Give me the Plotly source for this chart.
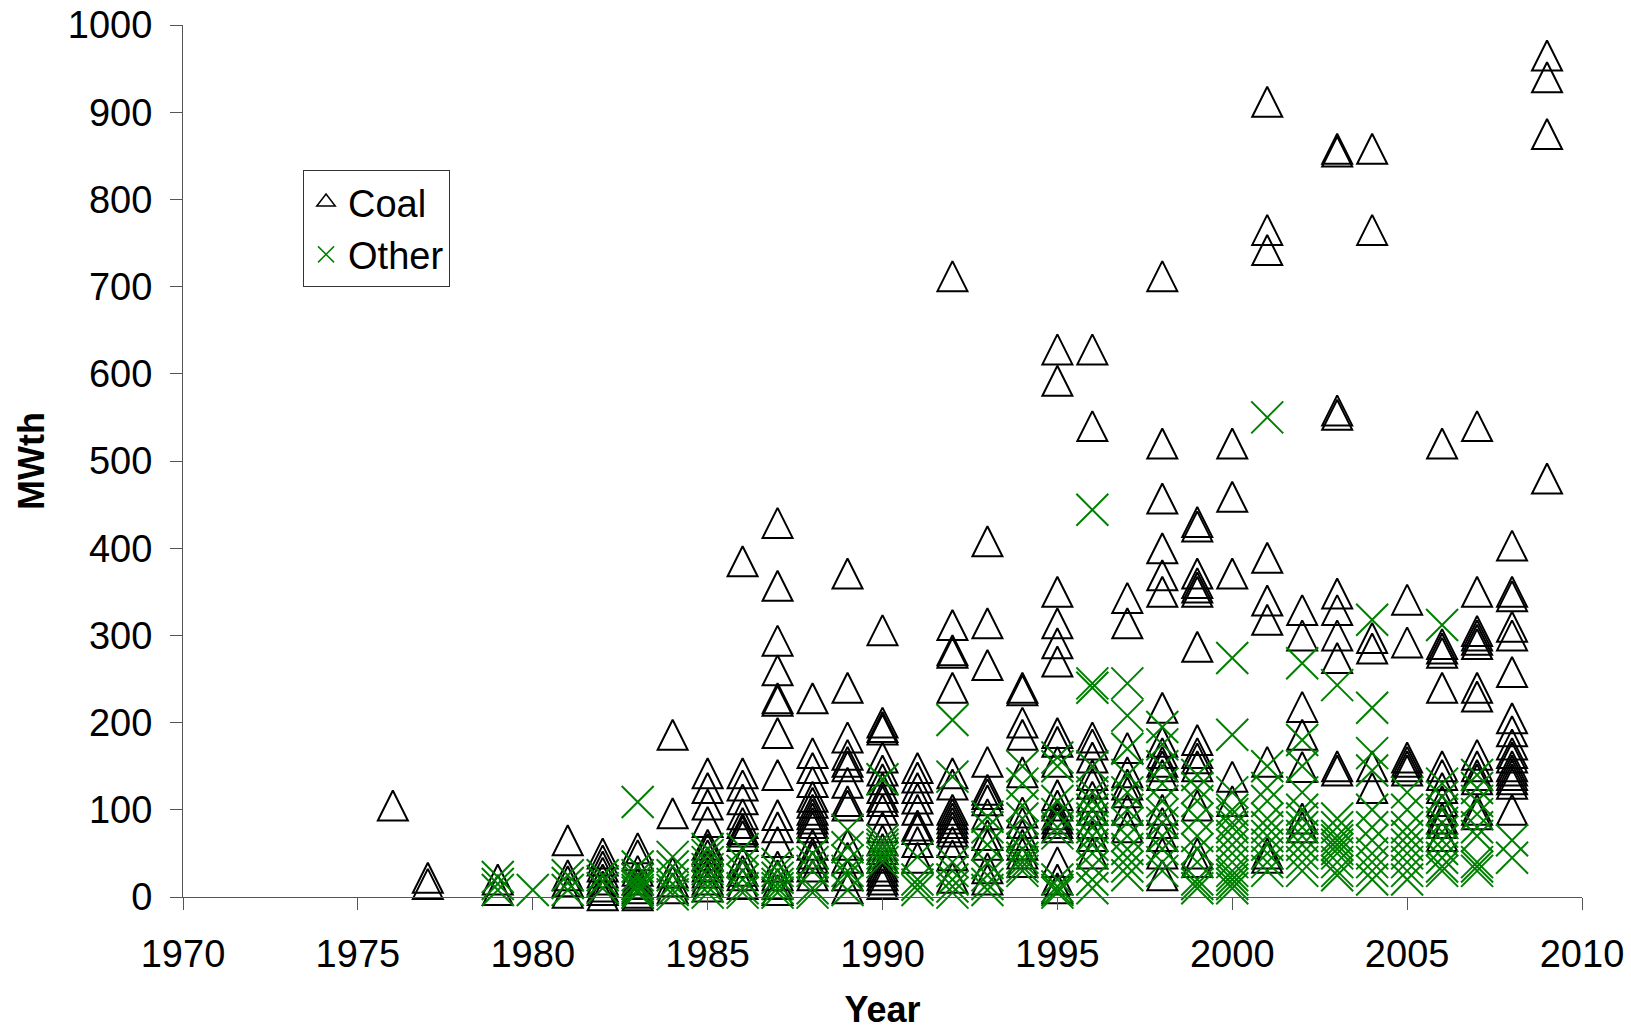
import plotly.graph_objects as go

# ---- data ----
coal_years = [1976, 1977, 1979, 1981, 1982, 1983, 1984, 1985, 1986, 1987,
              1988, 1989, 1990, 1991, 1992, 1993, 1994, 1995, 1996, 1997,
              1998, 1999, 2000, 2001, 2002, 2003, 2004, 2005, 2006, 2007,
              2008, 2009]
coal_mwth = [
    [105],
    [22, 15],
    [20, 8],
    [65, 25, 18, 5],
    [50, 42, 35, 28, 20, 12, 8, 2],
    [56, 48, 30, 20, 15, 10, 5, 2],
    [186, 96, 28, 18, 10],
    [142, 125, 106, 86, 60, 55, 48, 40, 35, 28, 20, 12],
    [385, 142, 128, 112, 95, 85, 78, 75, 70, 40, 30, 25, 15],
    [429, 357, 294, 260, 228, 225, 188, 140, 94, 80, 63, 35, 25, 15, 8],
    [228, 165, 148, 132, 115, 108, 100, 95, 90, 85, 80, 60, 50, 45, 35, 25],
    [371, 240, 183, 163, 155, 150, 131, 110, 105, 60, 45, 25, 10],
    [306, 200, 195, 192, 160, 145, 135, 125, 115, 110, 100, 80, 65, 55, 45,
     35, 30, 25, 20, 15],
    [148, 137, 125, 113, 100, 82, 78, 63, 45],
    [712, 312, 283, 280, 240, 142, 129, 100, 95, 90, 85, 80, 75, 63, 48, 22],
    [408, 314, 266, 155, 123, 118, 111, 95, 71, 60, 33, 20],
    [240, 237, 200, 186, 143, 97, 85, 71, 60, 50, 40],
    [628, 592, 350, 314, 291, 270, 188, 178, 155, 117, 105, 95, 90, 85, 80,
     40, 20, 10],
    [628, 540, 183, 175, 160, 140, 130, 115, 100, 85, 70, 50],
    [343, 314, 171, 143, 129, 120, 100, 80],
    [712, 520, 457, 400, 369, 350, 217, 178, 165, 155, 150, 140, 100, 85, 70,
     50, 25],
    [430, 425, 371, 360, 355, 350, 287, 180, 165, 159, 150, 105, 50, 40],
    [520, 459, 371, 138, 110],
    [912, 765, 742, 389, 340, 318, 155, 50, 45],
    [329, 300, 218, 186, 149, 90, 80],
    [858, 855, 558, 553, 348, 329, 300, 274, 150, 145],
    [858, 765, 297, 285, 150, 125],
    [341, 292, 160, 155, 150, 145],
    [520, 290, 285, 280, 240, 150, 140, 125, 110, 100, 90, 85, 70],
    [540, 350, 305, 300, 295, 290, 240, 230, 163, 150, 140, 135, 100, 95],
    [403, 350, 345, 310, 300, 258, 205, 190, 175, 165, 160, 150, 145, 140,
     135, 130, 100],
    [965, 940, 875, 480],
]

other_years = [1979, 1980, 1981, 1982, 1983, 1984, 1985, 1986, 1987, 1988,
               1989, 1990, 1991, 1992, 1993, 1994, 1995, 1996, 1997, 1998,
               1999, 2000, 2001, 2002, 2003, 2004, 2005, 2006, 2007, 2008]
other_mwth = [
    [23, 15, 8],
    [8],
    [25, 16, 8],
    [25, 18, 10],
    [109, 35, 25, 20, 15, 12, 8, 5],
    [46, 35, 25, 15, 8, 3],
    [55, 48, 40, 32, 25, 18, 12, 5],
    [55, 40, 30, 20, 10, 5],
    [38, 30, 22, 15, 10, 5],
    [50, 40, 30, 10, 5],
    [77, 57, 42, 30, 25, 8],
    [135, 65, 60, 55, 50, 45, 40],
    [46, 20, 14, 8],
    [203, 138, 40, 30, 20, 12, 5],
    [92, 80, 60, 39, 25, 15, 8],
    [150, 130, 105, 90, 70, 55, 45, 40, 35, 30],
    [160, 150, 110, 95, 80, 73, 20, 12, 8, 5],
    [444, 245, 240, 150, 120, 110, 100, 90, 80, 70, 60, 50, 35, 20, 10],
    [245, 208, 170, 140, 120, 100, 85, 70, 55, 45, 35, 25],
    [195, 175, 150, 130, 110, 95, 85, 70, 55, 40, 30],
    [140, 125, 110, 90, 70, 55, 40, 20, 15, 10],
    [274, 186, 120, 100, 95, 85, 80, 70, 60, 50, 40, 30, 25, 20, 15, 10],
    [550, 150, 125, 110, 90, 80, 70, 60, 50, 40, 30],
    [268, 180, 150, 120, 100, 90, 80, 70, 60, 50, 40, 30],
    [243, 90, 80, 70, 65, 60, 55, 50, 40, 30, 25],
    [318, 217, 165, 145, 100, 80, 65, 50, 40, 30, 20],
    [120, 100, 80, 70, 60, 50, 40, 30, 20],
    [312, 130, 115, 100, 85, 75, 65, 55, 45, 35, 30],
    [140, 125, 110, 95, 80, 70, 40, 35, 30],
    [65, 45],
]

x_ticks = [1970, 1975, 1980, 1985, 1990, 1995, 2000, 2005, 2010]
y_ticks = [0, 100, 200, 300, 400, 500, 600, 700, 800, 900, 1000]


def flatten(years, values):
    xs, ys = [], []
    for yr, vals in zip(years, values):
        for v in vals:
            xs.append(yr)
            ys.append(v)
    return xs, ys


cx, cy = flatten(coal_years, coal_mwth)
ox, oy = flatten(other_years, other_mwth)

FONT = "Liberation Sans, Arial, sans-serif"
TRI = 30
GREEN = "#008000"

fig = go.Figure()
# data traces (legend entries are drawn by the proxy traces below)
fig.add_trace(go.Scatter(
    x=cx, y=cy, mode="markers", name="Coal", legendgroup="coal",
    showlegend=False, cliponaxis=False,
    marker=dict(symbol="arrow-down-open", angle=180, standoff=TRI / 2,
                size=TRI, color="black", line=dict(width=2, color="black")),
))
fig.add_trace(go.Scatter(
    x=ox, y=oy, mode="markers", name="Other", legendgroup="other",
    showlegend=False, cliponaxis=False,
    marker=dict(symbol="x-thin-open", size=32, color=GREEN,
                line=dict(width=2, color=GREEN)),
))
# legend proxies
fig.add_trace(go.Scatter(
    x=[None], y=[None], mode="markers", name="Coal", legendgroup="coal",
    marker=dict(symbol="triangle-up-open", size=16, color="black",
                line=dict(width=1.5, color="black")),
))
fig.add_trace(go.Scatter(
    x=[None], y=[None], mode="markers", name="Other", legendgroup="other",
    marker=dict(symbol="x-thin-open", size=16, color=GREEN,
                line=dict(width=1.5, color=GREEN)),
))

axis_common = dict(
    showgrid=False, zeroline=False, showline=True, linecolor="#555555",
    linewidth=1, ticks="outside", ticklen=12, tickcolor="#555555",
    tickwidth=1, tickfont=dict(family=FONT, size=38, color="black"),
)

fig.update_layout(
    width=1631, height=1030,
    margin=dict(l=183, r=49, t=25, b=133),
    paper_bgcolor="white", plot_bgcolor="white",
    font=dict(family=FONT, color="black"),
    xaxis=dict(range=[1970, 2010], tickvals=x_ticks,
               ticktext=[str(t) for t in x_ticks],
               title=dict(text="<b>Year</b>", font=dict(family=FONT, size=36),
                          standoff=39),
               automargin=False, ticklabelstandoff=11, **axis_common),
    yaxis=dict(range=[0, 1000], tickvals=y_ticks,
               ticktext=[str(t) for t in y_ticks],
               title=dict(text="<b>MWth</b>", font=dict(family=FONT, size=36),
                          standoff=12),
               automargin=False, ticklabelstandoff=10, **axis_common),
    showlegend=True,
    legend=dict(x=0.0858, y=0.834, xanchor="left", yanchor="top",
                bgcolor="white", bordercolor="#333333", borderwidth=1,
                font=dict(family=FONT, size=38, color="black"),
                itemsizing="trace", itemwidth=34, tracegroupgap=0),
)

fig.write_html("out.html")
